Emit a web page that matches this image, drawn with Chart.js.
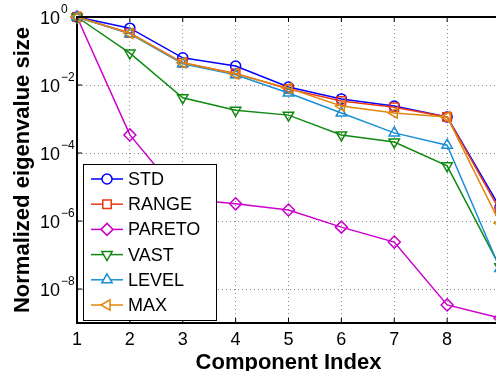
<!DOCTYPE html>
<html lang="en">
<head>
  <meta charset="UTF-8" />
  <title>Normalized eigenvalue size</title>
  <script src="https://cdn.jsdelivr.net/npm/chart.js"></script>
  <style>
    html, body {
      margin: 0;
      background: white;
      overflow: hidden;
    }
    #wrap {
      width: 496px;
      height: 371px;
      overflow: hidden;
    }
    canvas {
      display: block;
    }
  </style>
</head>
<body>
  <div id="wrap"><canvas id="eigChart" width="511" height="371"></canvas></div>
  <script>
    const FONT = "'Liberation Sans', Arial, sans-serif";

    const components = [1, 2, 3, 4, 5, 6, 7, 8, 9];
    const stdVals    = [1, 0.47, 0.063, 0.036, 0.0087, 0.0039, 0.0024, 0.00115, 2.5e-6];
    const rangeVals  = [1, 0.34, 0.045, 0.022, 0.0076, 0.0034, 0.0022, 0.00115, 2e-6];
    const paretoVals = [1, 3.4e-4, 4.5e-6, 3.2e-6, 2.1e-6, 6.6e-7, 2.4e-7, 3.4e-9, 1.4e-9];
    const vastVals   = [1, 0.087, 0.0042, 0.0018, 0.0013, 3.4e-4, 2.1e-4, 4.2e-5, 4.5e-8];
    const levelVals  = [1, 0.32, 0.042, 0.02, 0.0058, 0.0015, 3.9e-4, 1.7e-4, 4e-8];
    const maxVals    = [1, 0.33, 0.045, 0.021, 0.0081, 0.0024, 0.0015, 0.00115, 8.7e-7];
    const yTickExps  = [0, -2, -4, -6, -8];

    function series(label, values, color, style, rotation, radius) {
      return {
        label: label,
        data: components.map((c, i) => ({ x: c, y: values[i] })),
        borderColor: color,
        backgroundColor: "transparent",
        borderWidth: 1.5,
        pointStyle: style,
        rotation: rotation,
        pointRadius: radius,
        pointBorderWidth: 1.5,
        pointBackgroundColor: "transparent",
        clip: false,
      };
    }

    const datasets = [
      series("STD", stdVals, "#0000ff", "circle", 0, 5),
      series("RANGE", rangeVals, "#e8381a", "rect", 0, 6),
      series("PARETO", paretoVals, "#cc00cc", "rectRot", 0, 6),
      series("VAST", vastVals, "#108a10", "triangle", 180, 6),
      series("LEVEL", levelVals, "#1a8fd6", "triangle", 0, 6),
      series("MAX", maxVals, "#e0870f", "triangle", -90, 6),
    ];
    // later series sit on top, like the original
    datasets.forEach((d, i) => { d.order = datasets.length - 1 - i; });

    // axes box, inward ticks, 10^n labels and the legend
    const decorations = {
      id: "decorations",
      afterDatasetsDraw(chart) {
        const { ctx, chartArea: a, scales } = chart;
        const xs = scales.x, ys = scales.y;
        ctx.save();
        ctx.strokeStyle = "#000";
        ctx.lineWidth = 1;
        ctx.beginPath();
        components.forEach(c => {
          const px = xs.getPixelForValue(c);
          ctx.moveTo(px, a.bottom); ctx.lineTo(px, a.bottom - 5);
          ctx.moveTo(px, a.top); ctx.lineTo(px, a.top + 5);
        });
        yTickExps.forEach(e => {
          const py = ys.getPixelForValue(Math.pow(10, e));
          ctx.moveTo(a.left, py); ctx.lineTo(a.left + 5, py);
        });
        ctx.stroke();
        ctx.lineWidth = 2;
        ctx.beginPath();
        ctx.moveTo(a.left, a.top); ctx.lineTo(a.right, a.top);
        ctx.stroke();

        // y tick labels with superscript exponents
        ctx.fillStyle = "#000";
        ctx.textBaseline = "middle";
        ctx.textAlign = "left";
        yTickExps.forEach(e => {
          const py = ys.getPixelForValue(Math.pow(10, e));
          ctx.font = "18px " + FONT;
          ctx.fillText("10", 40, py + 2);
          const w = ctx.measureText("10").width;
          ctx.font = "12px " + FONT;
          ctx.fillText(e === 0 ? "0" : "\u2212" + (-e), 40 + w + 1, py - 7);
        });

        // legend
        const lx = 83, ly = 164, lw = 133, lh = 156;
        ctx.fillStyle = "#fff";
        ctx.fillRect(lx, ly, lw, lh);
        ctx.strokeStyle = "#000";
        ctx.lineWidth = 1;
        ctx.strokeRect(lx + 0.5, ly + 0.5, lw, lh);
        chart.data.datasets.forEach((d, i) => {
          const y = 179 + i * 25.2;
          ctx.strokeStyle = d.borderColor;
          ctx.lineWidth = 1.5;
          ctx.beginPath();
          ctx.moveTo(91, y); ctx.lineTo(123, y);
          ctx.stroke();
          ctx.fillStyle = "#fff";
          Chart.helpers.drawPoint(ctx, {
            pointStyle: d.pointStyle,
            rotation: d.rotation,
            radius: d.pointRadius,
            borderWidth: 1.5,
          }, 107, y);
          ctx.fillStyle = "#000";
          ctx.font = "18px " + FONT;
          ctx.textBaseline = "middle";
          ctx.fillText(d.label, 128, y + 1);
        });
        ctx.restore();
      }
    };

    new Chart(document.getElementById("eigChart"), {
      type: "line",
      data: { datasets: datasets },
      plugins: [decorations],
      options: {
        responsive: false,
        animation: false,
        layout: { padding: { top: 17, right: 7, left: 0, bottom: 0 } },
        plugins: { legend: { display: false }, tooltip: { enabled: false } },
        scales: {
          x: {
            type: "linear",
            min: 1,
            max: 9,
            afterFit: (scale) => { scale.height = 48; },
            ticks: {
              stepSize: 1,
              padding: 6,
              color: "#000",
              font: { family: FONT, size: 18 },
            },
            grid: { color: "#888", lineWidth: 1, drawTicks: false },
            border: { color: "#000", width: 2, dash: [1, 3] },
            title: {
              display: true,
              text: "Component Index",
              color: "#000",
              font: { family: FONT, size: 22, weight: "bold", lineHeight: 0.75 },
              padding: { top: 0, bottom: 0 },
            },
          },
          y: {
            type: "logarithmic",
            min: 1e-9,
            max: 1,
            afterFit: (scale) => { scale.width = 77; },
            afterBuildTicks: (scale) => {
              scale.ticks = yTickExps.map(e => ({ value: Math.pow(10, e) }));
            },
            ticks: { display: false },
            grid: { color: "#888", lineWidth: 1, drawTicks: false },
            border: { color: "#000", width: 2, dash: [1, 3] },
            title: {
              display: true,
              text: "Normalized eigenvalue size",
              color: "#000",
              font: { family: FONT, size: 22, weight: "bold" },
              padding: { top: 10 },
            },
          },
        },
      },
    });
  </script>
</body>
</html>
